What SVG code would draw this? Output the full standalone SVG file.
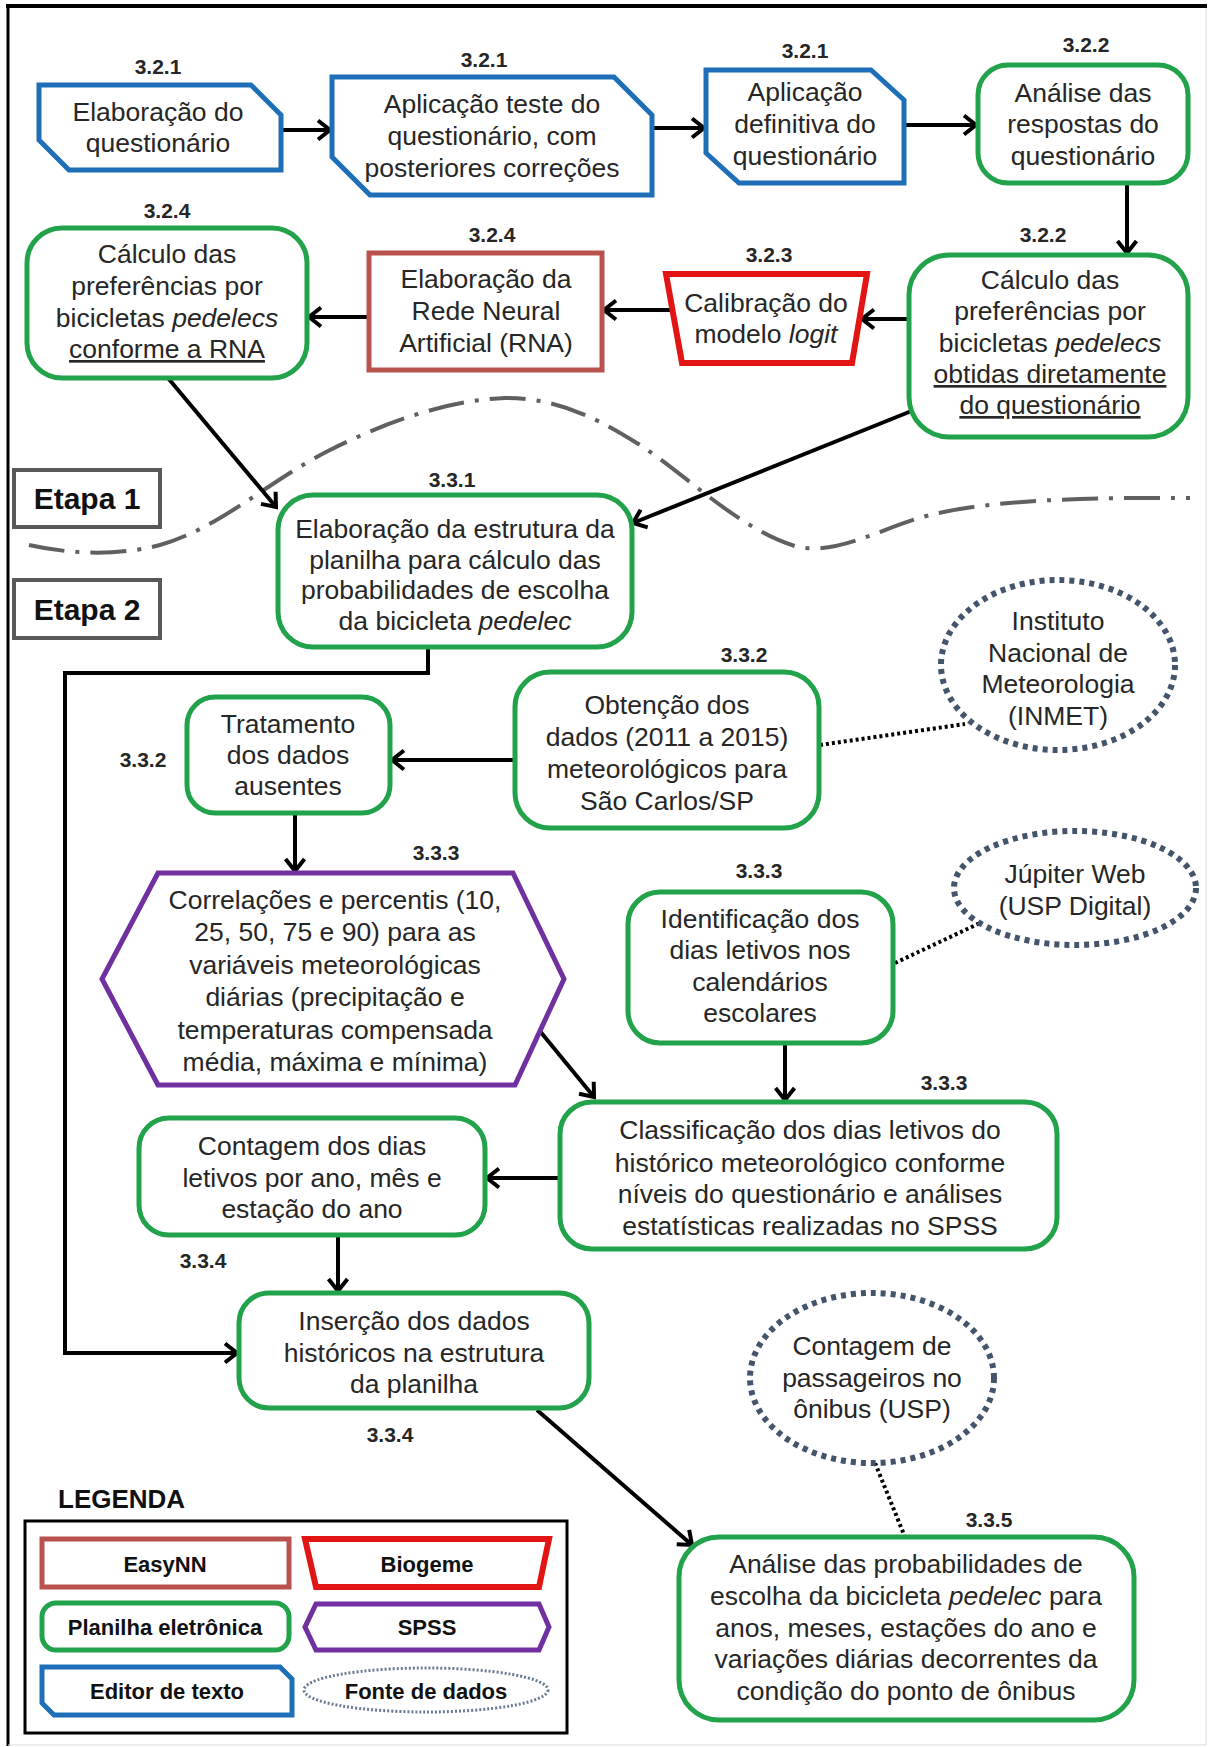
<svg xmlns="http://www.w3.org/2000/svg" width="1210" height="1747" viewBox="0 0 1210 1747">
<defs>
<marker id="arr" markerUnits="userSpaceOnUse" markerWidth="18" markerHeight="24" viewBox="0 0 18 24" refX="15" refY="12" orient="auto">
<path d="M3,2.5 L15,12 L3,21.5" fill="none" stroke="#000" stroke-width="4"/>
</marker>
<style>
.t{font-family:"Liberation Sans",Arial,sans-serif;font-size:26.5px;fill:#262626;text-anchor:middle}
.lb{font-family:"Liberation Sans",Arial,sans-serif;font-size:21px;font-weight:bold;fill:#262626;text-anchor:middle}
.lg{font-family:"Liberation Sans",Arial,sans-serif;font-size:22px;font-weight:bold;fill:#111;text-anchor:middle}
.et{font-family:"Liberation Sans",Arial,sans-serif;font-size:30px;font-weight:bold;fill:#111;text-anchor:middle}
.g{fill:#fff;stroke:#22a24a;stroke-width:5}
.b{fill:#fff;stroke:#1e6fb8;stroke-width:5;stroke-linejoin:miter}
.r{fill:#fff;stroke:#e31414;stroke-width:6}
.br{fill:#fff;stroke:#b9524f;stroke-width:5}
.p{fill:#fff;stroke:#7030a0;stroke-width:5}
.d{fill:#fff;stroke:#44546a;stroke-width:6;stroke-dasharray:5 5}
.c{fill:none;stroke:#000;stroke-width:4}
.dot{fill:none;stroke:#000;stroke-width:4;stroke-dasharray:3 3}
</style>
</defs>
<rect x="0" y="0" width="1210" height="1747" fill="#fff"/>
<g id="frame">
<line x1="6" y1="6" x2="1207" y2="6" stroke="#000" stroke-width="4"/>
<line x1="8" y1="4" x2="8" y2="1746" stroke="#000" stroke-width="3"/>
<line x1="1206" y1="8" x2="1206" y2="1745" stroke="#ddd" stroke-width="1"/>
<line x1="8" y1="1745" x2="1206" y2="1745" stroke="#ddd" stroke-width="1"/>
</g>
<g id="etapas">
<path d="M29,545 C60,552 110,558 160,545 C220,528 270,480 330,450 C390,420 450,400 505,398 C560,398 600,420 640,445 C690,478 740,530 798,547 C840,555 880,528 930,515 C980,503 1050,497 1190,498" fill="none" stroke="#606060" stroke-width="4" stroke-dasharray="36 11 4 11"/>
<g id="etapa1"><rect x="14" y="470" width="146" height="57" fill="#fff" stroke="#595959" stroke-width="4"/><text class="et" x="87" y="509">Etapa 1</text></g>
<g id="etapa2"><rect x="14" y="580" width="146" height="58" fill="#fff" stroke="#595959" stroke-width="4"/><text class="et" x="87" y="620">Etapa 2</text></g>
</g>
<g id="connectors">
<path class="c" d="M282,130 L330,130" marker-end="url(#arr)"/>
<path class="c" d="M652,128 L704,128" marker-end="url(#arr)"/>
<path class="c" d="M904,125 L976,125" marker-end="url(#arr)"/>
<path class="c" d="M1127,183 L1127,253" marker-end="url(#arr)"/>
<path class="c" d="M909,319 L862,319" marker-end="url(#arr)"/>
<path class="c" d="M672,310 L604,310" marker-end="url(#arr)"/>
<path class="c" d="M369,317 L309,317" marker-end="url(#arr)"/>
<path class="c" d="M168,378 L276,507" marker-end="url(#arr)"/>
<path class="c" d="M914,410 L633,523" marker-end="url(#arr)"/>
<path class="c" d="M428,647 L428,673 L65,673 L65,1353 L237,1353" marker-end="url(#arr)"/>
<path class="c" d="M515,760 L392,760" marker-end="url(#arr)"/>
<path class="c" d="M295,813 L295,871" marker-end="url(#arr)"/>
<path class="c" d="M539,1030 L594,1097" marker-end="url(#arr)"/>
<path class="c" d="M785,1043 L785,1100" marker-end="url(#arr)"/>
<path class="c" d="M560,1178 L487,1178" marker-end="url(#arr)"/>
<path class="c" d="M338,1235 L338,1291" marker-end="url(#arr)"/>
<path class="c" d="M537,1410 L692,1545" marker-end="url(#arr)"/>
<path class="dot" d="M820,745 L965,724"/>
<path class="dot" d="M895,963 L980,923"/>
<path class="dot" d="M875,1463 L905,1537"/>
</g>
<g id="labels">
<text class="lb" x="158" y="74">3.2.1</text>
<text class="lb" x="484" y="67">3.2.1</text>
<text class="lb" x="805" y="58">3.2.1</text>
<text class="lb" x="1086" y="52">3.2.2</text>
<text class="lb" x="167" y="218">3.2.4</text>
<text class="lb" x="492" y="242">3.2.4</text>
<text class="lb" x="769" y="262">3.2.3</text>
<text class="lb" x="1043" y="242">3.2.2</text>
<text class="lb" x="452" y="487">3.3.1</text>
<text class="lb" x="744" y="662">3.3.2</text>
<text class="lb" x="143" y="767">3.3.2</text>
<text class="lb" x="436" y="860">3.3.3</text>
<text class="lb" x="759" y="878">3.3.3</text>
<text class="lb" x="944" y="1090">3.3.3</text>
<text class="lb" x="203" y="1268">3.3.4</text>
<text class="lb" x="390" y="1442">3.3.4</text>
<text class="lb" x="989" y="1527">3.3.5</text>
</g>
<g id="nA"><path class="b" d="M39,85 L251,85 L281,115 L281,170 L69,170 L39,140 Z"/>
<text class="t" x="158" y="121">Elaboração do</text><text class="t" x="158" y="152">questionário</text></g>
<g id="nB"><path class="b" d="M332,77 L614,77 L652,115 L652,195 L370,195 L332,157 Z"/>
<text class="t" x="492" y="113">Aplicação teste do</text><text class="t" x="492" y="145">questionário, com</text><text class="t" x="492" y="177">posteriores correções</text></g>
<g id="nC"><path class="b" d="M706,70 L871,70 L904,100 L904,183 L739,183 L706,153 Z"/>
<text class="t" x="805" y="101">Aplicação</text><text class="t" x="805" y="133">definitiva do</text><text class="t" x="805" y="165">questionário</text></g>
<g id="nD"><rect class="g" x="978" y="65" width="210" height="118" rx="30"/>
<text class="t" x="1083" y="102">Análise das</text><text class="t" x="1083" y="133">respostas do</text><text class="t" x="1083" y="165">questionário</text></g>
<g id="nE"><rect class="g" x="909" y="255" width="279" height="182" rx="40"/>
<text class="t" x="1050" y="289">Cálculo das</text><text class="t" x="1050" y="320">preferências por</text><text class="t" x="1050" y="352">bicicletas <tspan font-style="italic">pedelecs</tspan></text><text class="t" x="1050" y="383" text-decoration="underline">obtidas diretamente</text><text class="t" x="1050" y="414" text-decoration="underline">do questionário</text></g>
<g id="nF"><path class="r" d="M666,274 L867,274 L852,363 L682,363 Z"/>
<text class="t" x="766" y="312">Calibração do</text><text class="t" x="766" y="343">modelo <tspan font-style="italic">logit</tspan></text></g>
<g id="nG"><rect class="br" x="369" y="253" width="233" height="117"/>
<text class="t" x="486" y="288">Elaboração da</text><text class="t" x="486" y="320">Rede Neural</text><text class="t" x="486" y="352">Artificial (RNA)</text></g>
<g id="nH"><rect class="g" x="27" y="228" width="280" height="150" rx="35"/>
<text class="t" x="167" y="263">Cálculo das</text><text class="t" x="167" y="295">preferências por</text><text class="t" x="167" y="327">bicicletas <tspan font-style="italic">pedelecs</tspan></text><text class="t" x="167" y="358" text-decoration="underline">conforme a RNA</text></g>
<g id="nI"><rect class="g" x="278" y="495" width="354" height="152" rx="35"/>
<text class="t" x="455" y="538">Elaboração da estrutura  da</text><text class="t" x="455" y="569">planilha para cálculo das</text><text class="t" x="455" y="599">probabilidades de escolha</text><text class="t" x="455" y="630">da bicicleta <tspan font-style="italic">pedelec</tspan></text></g>
<g id="nJ"><rect class="g" x="515" y="672" width="304" height="156" rx="35"/>
<text class="t" x="667" y="714">Obtenção dos</text><text class="t" x="667" y="746">dados (2011 a 2015)</text><text class="t" x="667" y="778">meteorológicos para</text><text class="t" x="667" y="810">São Carlos/SP</text></g>
<g id="nK"><ellipse class="d" cx="1058" cy="665" rx="117" ry="85"/>
<text class="t" x="1058" y="630">Instituto</text><text class="t" x="1058" y="662">Nacional de</text><text class="t" x="1058" y="693">Meteorologia</text><text class="t" x="1058" y="725">(INMET)</text></g>
<g id="nL"><rect class="g" x="187" y="697" width="203" height="116" rx="28"/>
<text class="t" x="288" y="733">Tratamento</text><text class="t" x="288" y="764">dos dados</text><text class="t" x="288" y="795">ausentes</text></g>
<g id="nM"><path class="p" d="M158,873 L513,873 L564,979 L515,1085 L158,1085 L102,979 Z"/>
<text class="t" x="335" y="909">Correlações e percentis (10,</text><text class="t" x="335" y="941">25, 50, 75 e 90) para as</text><text class="t" x="335" y="974">variáveis meteorológicas</text><text class="t" x="335" y="1006">diárias (precipitação e</text><text class="t" x="335" y="1039">temperaturas  compensada</text><text class="t" x="335" y="1071">média, máxima  e mínima)</text></g>
<g id="nN"><rect class="g" x="628" y="892" width="265" height="151" rx="32"/>
<text class="t" x="760" y="928">Identificação dos</text><text class="t" x="760" y="959">dias letivos nos</text><text class="t" x="760" y="991">calendários</text><text class="t" x="760" y="1022">escolares</text></g>
<g id="nO"><ellipse class="d" cx="1075" cy="888" rx="121" ry="57"/>
<text class="t" x="1075" y="883">Júpiter Web</text><text class="t" x="1075" y="915">(USP Digital)</text></g>
<g id="nP"><rect class="g" x="560" y="1102" width="497" height="147" rx="32"/>
<text class="t" x="810" y="1139">Classificação dos dias letivos do</text><text class="t" x="810" y="1172">histórico meteorológico conforme</text><text class="t" x="810" y="1203">níveis do questionário e análises</text><text class="t" x="810" y="1235">estatísticas realizadas no SPSS</text></g>
<g id="nQ"><rect class="g" x="139" y="1118" width="346" height="117" rx="30"/>
<text class="t" x="312" y="1155">Contagem dos dias</text><text class="t" x="312" y="1187">letivos por ano, mês e</text><text class="t" x="312" y="1218">estação do ano</text></g>
<g id="nR"><rect class="g" x="239" y="1293" width="350" height="115" rx="30"/>
<text class="t" x="414" y="1330">Inserção dos dados</text><text class="t" x="414" y="1362">históricos na estrutura</text><text class="t" x="414" y="1393">da planilha</text></g>
<g id="nT"><ellipse class="d" cx="872" cy="1378" rx="122" ry="85"/>
<text class="t" x="872" y="1355">Contagem de</text><text class="t" x="872" y="1387">passageiros no</text><text class="t" x="872" y="1418">ônibus (USP)</text></g>
<g id="nS"><rect class="g" x="679" y="1537" width="455" height="183" rx="40"/>
<text class="t" x="906" y="1573">Análise das probabilidades de</text><text class="t" x="906" y="1605">escolha da bicicleta <tspan font-style="italic">pedelec</tspan> para</text><text class="t" x="906" y="1637">anos, meses, estações do ano e</text><text class="t" x="906" y="1668">variações diárias decorrentes da</text><text class="t" x="906" y="1700">condição do ponto de ônibus</text></g>
<g id="legend">
<text x="58" y="1508" font-family="Liberation Sans, Arial, sans-serif" font-size="26" font-weight="bold" fill="#111">LEGENDA</text>
<rect x="25" y="1521" width="542" height="212" fill="#fff" stroke="#000" stroke-width="3"/>
<g id="lgEasyNN"><rect class="br" x="42" y="1539" width="247" height="48"/><text class="lg" x="165" y="1572">EasyNN</text></g>
<g id="lgBiogeme"><path class="r" d="M305,1539 L549,1539 L539,1587 L316,1587 Z"/><text class="lg" x="427" y="1572">Biogeme</text></g>
<g id="lgPlanilha"><rect class="g" x="42" y="1603" width="247" height="47" rx="14"/><text class="lg" x="165" y="1635">Planilha eletrônica</text></g>
<g id="lgSPSS"><path class="p" d="M316,1604 L539,1604 L549,1627 L539,1650 L316,1650 L305,1627 Z"/><text class="lg" x="427" y="1635">SPSS</text></g>
<g id="lgEditor"><path class="b" d="M42,1667 L280,1667 L292,1679 L292,1715 L54,1715 L42,1703 Z"/><text class="lg" x="167" y="1699">Editor de texto</text></g>
<g id="lgFonte"><ellipse cx="426" cy="1690" rx="122" ry="22" fill="#fff" stroke="#6a7a90" stroke-width="3" stroke-dasharray="2 2"/><text class="lg" x="426" y="1699">Fonte de dados</text></g>
</g>
</svg>
